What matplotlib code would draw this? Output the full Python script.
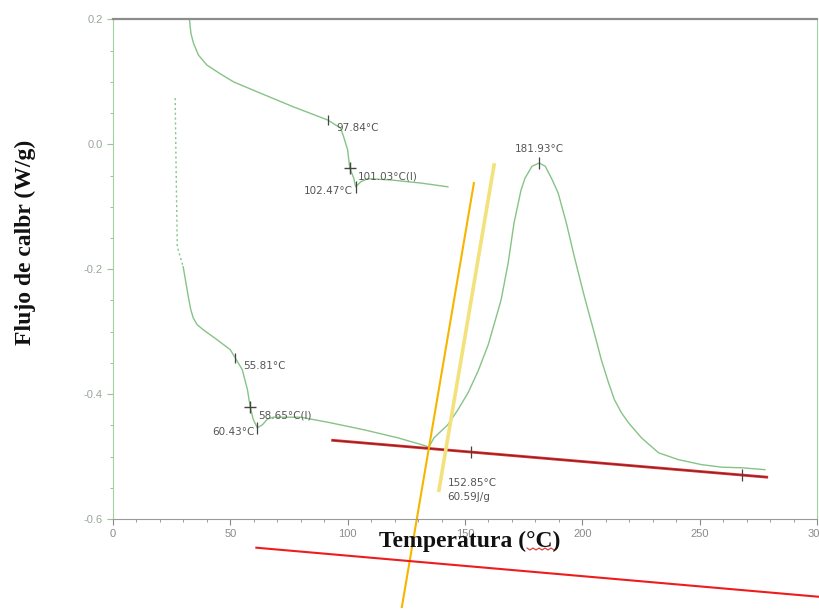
import matplotlib
matplotlib.use("Agg")
import matplotlib.pyplot as plt
from matplotlib.ticker import MultipleLocator
from matplotlib.lines import Line2D
import numpy as np

# upper run (first heating)
t1 = [32.6, 33.2, 34.3, 36.4, 40.0, 45.7, 51.4, 62.8, 76.9, 91.5, 97.0, 98.3, 100.0,
      100.9, 102.6, 103.4, 105.6, 108.5, 118.4, 131.2, 142.7]
hf1 = [0.199, 0.178, 0.162, 0.143, 0.127, 0.113, 0.100, 0.082, 0.060, 0.039, 0.026,
       0.012, -0.009, -0.038, -0.054, -0.068, -0.060, -0.055, -0.057, -0.062, -0.068]

# lower run: dotted start, then solid curve
t2_start = [26.5, 26.9, 27.4, 29.9]
hf2_start = [0.074, -0.041, -0.164, -0.196]
t2 = [29.9, 32.1, 33.1, 34.2, 35.9, 38.5, 44.4, 50.0, 52.1, 55.1, 57.3, 58.5, 59.8,
      61.5, 63.7, 65.8, 68.4, 79.9, 91.5, 106.8, 121.4, 133.3, 134.6, 136.8, 142.7,
      147.0, 151.3, 155.6, 159.9, 163.2, 165.4, 168.4, 170.9, 173.9, 175.6, 178.6,
      181.6, 184.2, 187.2, 189.7, 193.2, 196.6, 200.9, 205.1, 208.1, 211.1, 213.7,
      216.7, 219.7, 225.2, 232.5, 241.0, 250.9, 259.4, 268.0, 277.8]
hf2 = [-0.196, -0.244, -0.264, -0.278, -0.289, -0.297, -0.313, -0.329, -0.342, -0.361,
       -0.393, -0.421, -0.441, -0.454, -0.449, -0.440, -0.437, -0.437, -0.445, -0.457,
       -0.470, -0.483, -0.485, -0.470, -0.449, -0.425, -0.398, -0.363, -0.321, -0.278,
       -0.249, -0.190, -0.126, -0.073, -0.054, -0.035, -0.030, -0.035, -0.057, -0.078,
       -0.126, -0.180, -0.244, -0.302, -0.345, -0.381, -0.409, -0.430, -0.446, -0.470,
       -0.494, -0.505, -0.513, -0.517, -0.518, -0.521]

# analysis marks: (T, hf, label, kind, text side)
marks = [
    (91.5, 0.039, "97.84°C", "tick", "right"),
    (100.9, -0.038, "101.03°C(I)", "plus", "right"),
    (103.4, -0.068, "102.47°C", "vtick", "left"),
    (52.1, -0.342, "55.81°C", "tick", "right"),
    (58.5, -0.421, "58.65°C(I)", "plus", "right"),
    (61.5, -0.454, "60.43°C", "vtick", "left"),
    (181.6, -0.030, "181.93°C", "vtick", "top"),
]

# integration baseline and hand-drawn tangent lines
base_t = [93.6, 278.6]
base_hf = [-0.474, -0.533]
base_ticks_t = [152.6, 268.0]
yellow_t = [138.9, 162.4]
yellow_hf = [-0.554, -0.033]
orange_t = [123.1, 153.8]
orange_hf = [-0.741, -0.062]
red2_t = [61.1, 302.1]
red2_hf = [-0.646, -0.725]

green = "#86c386"
txt = "#555555"

fig = plt.figure(figsize=(8.2, 6.1), dpi=100)
ax = fig.add_axes([0.1378, 0.1492, 0.8585, 0.8189])
ax.set_xlim(0, 300)
ax.set_ylim(-0.6, 0.2)

ax.plot(t1, hf1, color=green, lw=1.0)
ax.plot(t2_start, hf2_start, color=green, lw=1.0, ls=(0, (1.5, 2)))
ax.plot(t2, hf2, color=green, lw=1.0)

for t, h, lab, kind, side in marks:
    if kind == "plus":
        ax.plot([t], [h], marker="+", ms=9, mew=1.0, color="#444444")
    elif kind == "tick":
        ax.plot([t], [h], marker="|", ms=7, mew=0.9, color="#444444")
    else:
        ax.plot([t], [h], marker="|", ms=8, mew=0.9, color="#444444")
    if side == "right":
        ax.annotate(lab, (t, h), xytext=(6, -6), textcoords="offset points",
                    fontsize=7.5, color=txt, ha="left", va="center")
    elif side == "left":
        ax.annotate(lab, (t, h), xytext=(-2, -3), textcoords="offset points",
                    fontsize=7.5, color=txt, ha="right", va="center")
    else:
        ax.annotate(lab, (t, h), xytext=(0, 10), textcoords="offset points",
                    fontsize=7.5, color=txt, ha="center", va="center")

# baseline (dark core under red overlay)
ax.plot(base_t, base_hf, color="#e0282a", lw=2.0, clip_on=False)
ax.plot(base_t, base_hf, color="#6a2a2a", lw=0.6, clip_on=False)
bt = np.interp(base_ticks_t, base_t, base_hf)
ax.plot(base_ticks_t, bt, ls="none", marker="|", ms=9, mew=0.9, color="#444444")
ax.text(142.5, -0.543, "152.85°C", fontsize=7.5, color=txt, ha="left", va="center")
ax.text(142.5, -0.565, "60.59J/g", fontsize=7.5, color=txt, ha="left", va="center")

ax.plot(yellow_t, yellow_hf, color="#f3e27c", lw=2.6, clip_on=False)
ax.plot(orange_t, orange_hf, color="#f7b500", lw=1.5, clip_on=False)
ax.plot(red2_t, red2_hf, color="#ee1c1c", lw=1.5, clip_on=False)

# spines and ticks
for s in ["left", "right"]:
    ax.spines[s].set_color("#9fd39f")
ax.spines["top"].set_color("#8c8c8c")
ax.spines["bottom"].set_color("#9a9a9a")
ax.spines["top"].set_linewidth(1.6)
ax.xaxis.set_major_locator(MultipleLocator(50))
ax.xaxis.set_minor_locator(MultipleLocator(10))
ax.yaxis.set_major_locator(MultipleLocator(0.2))
ax.yaxis.set_minor_locator(MultipleLocator(0.05))
ax.tick_params(which="major", direction="out", length=4, width=0.8, colors="#8a8a8a",
               labelsize=8)
ax.tick_params(which="minor", direction="out", length=2.5, width=0.7, colors="#9a9a9a")
ax.tick_params(axis="y", which="both", colors="#9fbf9f", labelcolor="#9aa59a")
ax.set_yticks([0.2, 0.0, -0.2, -0.4, -0.6])
ax.set_yticklabels(["0.2", "0.0", "-0.2", "-0.4", "-0.6"])
for lb in ax.get_xticklabels() + ax.get_yticklabels():
    lb.set_family("Liberation Sans")

fig.text(0.5725, 0.113, "Temperatura (°C)", family="Liberation Serif", weight="bold",
         fontsize=17, ha="center", va="center", color="#111111")
fig.text(0.031, 0.602, "Flujo de calbr (W/g)", family="Liberation Serif", weight="bold",
         fontsize=17, ha="center", va="center", rotation=90, color="#111111")

# spell-check squiggle under "°C)"
zx = np.linspace(527, 557, 11) / 820
zy = 1 - (548 + np.array([0, 2] * 5 + [0])) / 610
fig.add_artist(Line2D(zx, zy, color="#e03030", lw=0.8))

fig.savefig("out.png", dpi=100)
